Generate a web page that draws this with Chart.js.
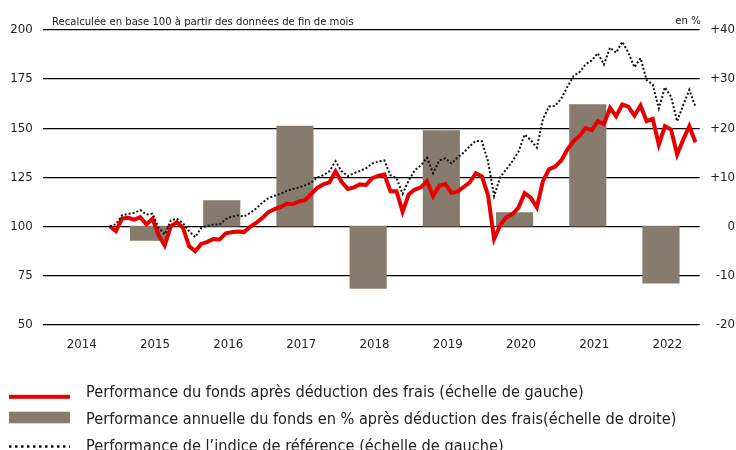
<!DOCTYPE html>
<html>
<head>
<meta charset="utf-8">
<script src="https://cdn.jsdelivr.net/npm/chart.js@4.4.1/dist/chart.umd.min.js"></script>
<style>
  html, body { margin: 0; padding: 0; background: #fff; }
  #wrap { width: 736px; height: 450px; position: relative; }
</style>
</head>
<body>
<div id="wrap"><canvas id="chart" width="736" height="450"></canvas></div>
<script>
// ── data ────────────────────────────────────────────────────────────────
// monthly values, end of Dec 2014 → end of Dec 2022 (base 100)
const fundValues = [
  100, 97.5, 103.9, 104.3, 103.4, 104.6, 100.9, 103.8, 95.5, 90.2, 100, 102,
  99.2, 89.8, 87.3, 91, 92, 93.5, 93.2, 96.4, 96.9, 97.3, 97, 99.7,
  101.7, 104.2, 107.2, 108.7, 109.8, 111.4, 111.2, 112.6, 113.3, 116.3, 119.5, 121.3,
  122.3, 128, 122.6, 119, 119.8, 121.3, 121, 124.5, 125.6, 126.4, 117.8, 117.8,
  107.4, 116.2, 118.7, 119.8, 123, 115.3, 120.6, 121.5, 117, 117.6, 120, 122.4,
  127, 125.4, 115.8, 93.5, 100.6, 104.5, 106.2, 109.5, 116.8, 114.5, 109.6, 123,
  129, 130.4, 133.5, 139, 143.2, 146, 150, 149, 153.5, 152, 160.3, 156.1,
  162, 160.9, 156.4, 161.5, 153.5, 154.7, 141.6, 151, 149.3, 136.5, 144.2, 151,
  142.8
];
const indexValues = [
  100, 101, 105.5, 106.3, 106.8, 108.2, 106, 106.4, 99.2, 95.8, 103, 103.8,
  101.5, 97.5, 94.4, 99.2, 100.2, 100.8, 100.9, 103.6, 105, 105.5, 104.9, 106.8,
  109, 112, 114.3, 115.5, 116.5, 118, 119, 119.8, 120.8, 122.2, 124.8, 126,
  128, 133.1, 128, 125.5, 127, 128.2, 129.5, 131.9, 133, 133.5, 126, 124.5,
  116.5, 123.3, 128.5, 131, 134.9, 127, 133.5, 134.6, 132, 135, 137.5, 140.8,
  143.5, 143.3, 133, 115.3, 125, 129, 133.1, 138, 146.7, 144, 140, 154.5,
  161, 161.3, 165, 171, 176.5, 178.5, 182.5, 184.5, 188.2, 182.4, 191, 188.4,
  194, 188.5, 181, 185.6, 174.5, 172.2, 160, 170.8, 166, 153.5, 161.8, 169.5,
  161
];
const yearLabels = [2014, 2015, 2016, 2017, 2018, 2019, 2020, 2021, 2022];
const barYears = [2015, 2016, 2017, 2018, 2019, 2020, 2021, 2022];
const barValues = [-2.9, 5.2, 20.4, -12.7, 19.5, 2.8, 24.8, -11.6];

const titleText = "Recalculée en base 100 à partir des données de fin de mois";
const unitText = "en %";
const legendTexts = [
  "Performance du fonds après déduction des frais (échelle de gauche)",
  "Performance annuelle du fonds en % après déduction des frais(échelle de droite)",
  "Performance de l\u2019indice de référence (échelle de gauche)",
];

// ── layout constants (months counted from Dec 2014) ────────────────────
const labelShift = -4.6;   // year label sits mid-year
const barShift = -5.65;    // annual bar centred just before the label
const RED = "#e60000";
const BAR = "#877b6e";
const INK = "#222";

// pick a narrow family if one is installed, then size text to the picture
const probe = document.createElement("canvas").getContext("2d");
const family = (() => {
  probe.font = "20px monospace";
  const mono = probe.measureText("Performance annuelle 2014").width;
  for (const f of ["Liberation Sans Narrow", "DejaVu Sans Condensed", "Liberation Sans"]) {
    probe.font = `20px "${f}", monospace`;
    if (Math.abs(probe.measureText("Performance annuelle 2014").width - mono) > 0.5) return f;
  }
  return "sans-serif";
})();
const fitSize = (text, width) => {
  probe.font = `100px "${family}"`;
  return (100 * width) / probe.measureText(text).width;
};
const legendSize = fitSize(legendTexts[0], 498);
const titleSize = fitSize(titleText, 302);
const tickSize = fitSize("2014", 30);

// ── titles + legend drawn on the canvas ────────────────────────────────
const textPlugin = {
  id: "texts",
  afterDraw(chart) {
    const c = chart.ctx;
    const area = chart.chartArea;
    c.save();
    c.fillStyle = INK;
    c.textBaseline = "alphabetic";
    c.font = `${titleSize}px "${family}"`;
    c.textAlign = "left";
    c.fillText(titleText, 52, 25);
    c.textAlign = "right";
    c.fillText(unitText, area.right + 1, 24);

    // legend
    const x0 = 9, w = 61, tx = 86;
    c.fillStyle = RED;
    c.fillRect(x0, 394.8, w, 4);
    c.fillStyle = BAR;
    c.fillRect(x0, 411.7, w, 11.6);
    c.strokeStyle = "#111";
    c.lineWidth = 2.5;
    c.setLineDash([2.5, 3.5]);
    c.beginPath();
    c.moveTo(x0, 446.5);
    c.lineTo(x0 + w, 446.5);
    c.stroke();
    c.setLineDash([]);

    c.fillStyle = INK;
    c.textAlign = "left";
    c.font = `${legendSize}px "${family}"`;
    c.fillText(legendTexts[0], tx, 397.3);
    c.fillText(legendTexts[1], tx, 423.5);
    c.fillText(legendTexts[2], tx, 450.5);
    c.restore();
  },
};

const tickFont = { family, size: tickSize };

new Chart(document.getElementById("chart"), {
  type: "line",
  data: {
    datasets: [
      {
        type: "line",
        label: legendTexts[2],
        data: indexValues.map((v, i) => ({ x: i, y: v })),
        borderColor: "#111",
        borderWidth: 2,
        borderDash: [2, 2],
        pointRadius: 0,
        tension: 0,
        yAxisID: "y",
        order: 0,
      },
      {
        type: "line",
        label: legendTexts[0],
        data: fundValues.map((v, i) => ({ x: i, y: v })),
        borderColor: RED,
        borderWidth: 4,
        pointRadius: 0,
        tension: 0,
        borderJoinStyle: "miter",
        yAxisID: "y",
        order: 1,
      },
      {
        type: "bar",
        label: legendTexts[1],
        data: barYears.map((yr, i) => ({ x: 12 * (yr - 2014) + barShift, y: barValues[i] })),
        backgroundColor: BAR,
        barThickness: 36.5,
        yAxisID: "y2",
        order: 2,
      },
    ],
  },
  options: {
    responsive: false,
    animation: false,
    layout: { padding: { top: 30, bottom: 101.7, left: 0, right: 1 } },
    plugins: { legend: { display: false }, tooltip: { enabled: false } },
    scales: {
      x: {
        type: "linear",
        min: -11,
        max: 96.7,
        offset: false,
        grid: { display: false },
        border: { display: false },
        afterBuildTicks: (s) => {
          s.ticks = yearLabels.map((y) => ({ value: 12 * (y - 2014) + labelShift }));
        },
        ticks: {
          autoSkip: false,
          maxRotation: 0,
          padding: 4,
          color: INK,
          font: tickFont,
          callback: (v) => String(Math.round((v - labelShift) / 12) + 2014),
        },
        afterFit: (s) => { s.height = 24; },
      },
      y: {
        position: "left",
        min: 50,
        max: 200,
        ticks: { stepSize: 25, padding: 10, color: INK, font: tickFont },
        grid: { color: "#000", lineWidth: 1.2, drawTicks: false },
        border: { display: false },
        afterFit: (s) => { s.width = 42.7; },
      },
      y2: {
        position: "right",
        min: -20,
        max: 40,
        ticks: {
          stepSize: 10,
          crossAlign: "far",
          color: INK,
          font: tickFont,
          callback: (v) => (v > 0 ? "+" + v : String(v)),
        },
        grid: { display: false, drawTicks: false },
        border: { display: false },
        afterFit: (s) => { s.width = 35.3; },
      },
    },
  },
  plugins: [textPlugin],
});
</script>
</body>
</html>
